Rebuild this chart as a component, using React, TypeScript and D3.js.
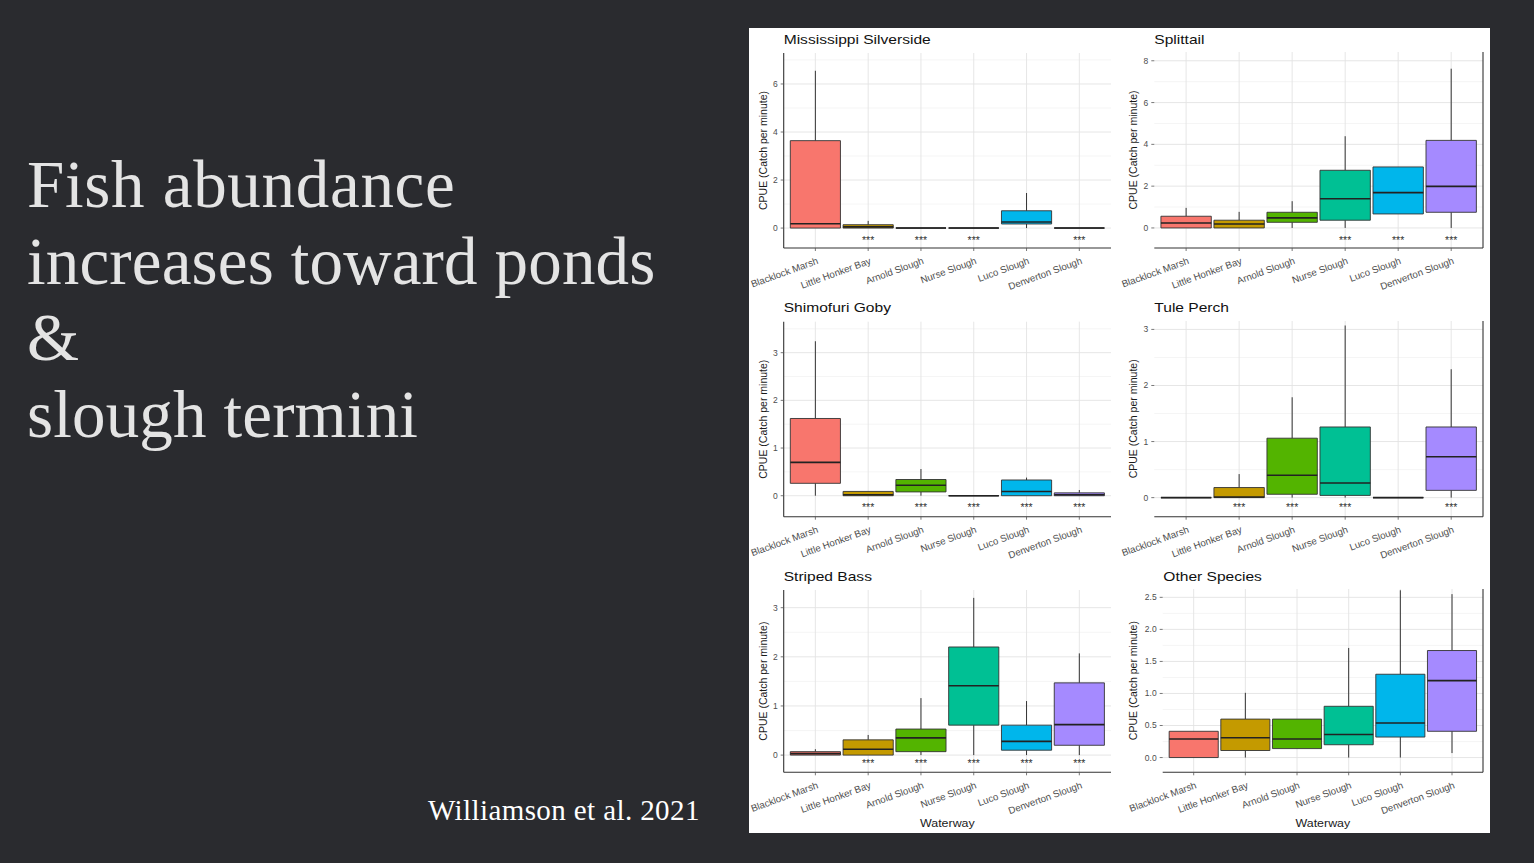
import React from 'react';
import * as d3 from 'd3';

const waterways = ["Blacklock Marsh", "Little Honker Bay", "Arnold Slough", "Nurse Slough", "Luco Slough", "Denverton Slough"];
const fillColors = ["#F8766D", "#C49A00", "#53B400", "#00C094", "#00B6EB", "#A58AFF"];

// each row: [min, q1, median, q3, max]
const silversideStats = [[0, 0, 0.18, 3.64, 6.55], [0, 0, 0.05, 0.14, 0.3], [0, 0, 0, 0, 0], [0, 0, 0, 0, 0], [0, 0.17, 0.25, 0.72, 1.46], [0, 0, 0, 0, 0]];
const silversideSig = [false, true, true, true, false, true];
const splittailStats = [[0, 0, 0.24, 0.56, 0.96], [0, 0, 0.19, 0.37, 0.77], [0, 0.27, 0.48, 0.75, 1.28], [0, 0.37, 1.4, 2.76, 4.39], [0.67, 0.67, 1.69, 2.92, 2.92], [0, 0.75, 1.99, 4.19, 7.62]];
const splittailSig = [false, false, false, true, true, true];
const gobyStats = [[0, 0.26, 0.7, 1.62, 3.24], [0, 0, 0.02, 0.09, 0.09], [0, 0.08, 0.22, 0.34, 0.56], [0, 0, 0, 0, 0], [0, 0, 0.09, 0.33, 0.38], [0, 0, 0.02, 0.06, 0.12]];
const gobySig = [false, true, true, true, true, true];
const perchStats = [[0, 0, 0, 0, 0], [0, 0, 0.01, 0.18, 0.42], [0, 0.06, 0.4, 1.06, 1.79], [0, 0.04, 0.26, 1.26, 3.07], [0, 0, 0, 0, 0], [0, 0.13, 0.73, 1.26, 2.29]];
const perchSig = [false, true, true, true, false, true];
const bassStats = [[0, 0, 0.03, 0.07, 0.12], [0, 0, 0.12, 0.31, 0.41], [0, 0.07, 0.35, 0.53, 1.16], [0, 0.61, 1.41, 2.2, 3.2], [0, 0.1, 0.28, 0.61, 1.1], [0, 0.2, 0.62, 1.47, 2.07]];
const bassSig = [false, true, true, true, true, true];
const otherStats = [[0, 0, 0.29, 0.41, 0.41], [0, 0.11, 0.31, 0.6, 1.01], [0.14, 0.14, 0.29, 0.6, 0.6], [0, 0.2, 0.36, 0.8, 1.71], [0, 0.32, 0.54, 1.3, 2.61], [0.07, 0.41, 1.2, 1.67, 2.55]];
const otherSig = [false, false, false, false, false, false];

const ticksEven = [0, 2, 4, 6];
const ticksEven8 = [0, 2, 4, 6, 8];
const ticksOdd = [1, 3, 5, 7];
const ticksUnit = [0, 1, 2, 3];
const ticksHalf = [0.5, 1.5, 2.5, 3.5];
const ticksOther = [0, 0.5, 1, 1.5, 2, 2.5];
const ticksOtherMinor = [0.25, 0.75, 1.25, 1.75, 2.25];

const yLabel = "CPUE (Catch per minute)";
const xLabel = "Waterway";

type Panel = {
  title: string; stats: number[][]; sig: boolean[]; major: number[]; minor: number[]; fmt: string;
  domain: [number, number]; left: number; right: number; top: number; bottom: number;
  side: 'left' | 'right'; starVal: number; titleX: number; titleY: number; ylabX: number; showX: boolean;
};

const panels: Panel[] = [
  { title: "Mississippi Silverside", stats: silversideStats, sig: silversideSig, major: ticksEven, minor: ticksOdd, fmt: "d", domain: [-0.83, 7.29], left: 783.7, right: 1111, top: 53, bottom: 248, side: 'left', starVal: -0.45, titleX: 783.7, titleY: 44, ylabX: 763, showX: false },
  { title: "Splittail", stats: splittailStats, sig: splittailSig, major: ticksEven8, minor: ticksOdd, fmt: "d", domain: [-0.96, 8.42], left: 1154.3, right: 1483, top: 52, bottom: 248, side: 'right', starVal: -0.51, titleX: 1154.3, titleY: 44, ylabX: 1133, showX: false },
  { title: "Shimofuri Goby", stats: gobyStats, sig: gobySig, major: ticksUnit, minor: ticksHalf, fmt: "d", domain: [-0.44, 3.65], left: 783.7, right: 1111, top: 321.7, bottom: 516.7, side: 'left', starVal: -0.22, titleX: 783.7, titleY: 312, ylabX: 763, showX: false },
  { title: "Tule Perch", stats: perchStats, sig: perchSig, major: ticksUnit, minor: ticksHalf, fmt: "d", domain: [-0.34, 3.15], left: 1154.3, right: 1483, top: 321, bottom: 516.7, side: 'right', starVal: -0.15, titleX: 1154.3, titleY: 312, ylabX: 1133, showX: false },
  { title: "Striped Bass", stats: bassStats, sig: bassSig, major: ticksUnit, minor: ticksHalf, fmt: "d", domain: [-0.35, 3.36], left: 783.7, right: 1111, top: 590, bottom: 772.3, side: 'left', starVal: -0.14, titleX: 783.7, titleY: 581, ylabX: 763, showX: true },
  { title: "Other Species", stats: otherStats, sig: otherSig, major: ticksOther, minor: ticksOtherMinor, fmt: ".1f", domain: [-0.23, 2.63], left: 1162.7, right: 1483, top: 589, bottom: 772.3, side: 'right', starVal: -0.2, titleX: 1163.3, titleY: 581, ylabX: 1133, showX: true },
];

const SANS = "'Liberation Sans', Arial, sans-serif";
const SERIF = "'Liberation Serif', 'Times New Roman', serif";

function BoxPanel({ p }: { p: Panel }) {
  const x = d3.scalePoint<string>().domain(waterways).range([p.left, p.right]).padding(0.6);
  const y = d3.scaleLinear().domain(p.domain).range([p.bottom, p.top]);
  const step = x.step();
  const hw = step * 0.475;
  const fmt = d3.format(p.fmt);
  const midY = (p.top + p.bottom) / 2;
  return (
    <g>
      {p.minor.filter(v => v > p.domain[0] && v < p.domain[1]).map(v => (
        <line key={'mn' + v} x1={p.left} x2={p.right} y1={y(v)} y2={y(v)} stroke="#f2f2f2" strokeWidth={0.8} />
      ))}
      {p.major.map(v => (
        <line key={'mj' + v} x1={p.left} x2={p.right} y1={y(v)} y2={y(v)} stroke="#e3e3e3" strokeWidth={0.9} />
      ))}
      {waterways.map(w => (
        <line key={'vg' + w} x1={x(w)} x2={x(w)} y1={p.top} y2={p.bottom} stroke="#e3e3e3" strokeWidth={0.9} />
      ))}
      {p.stats.map((s, i) => {
        const cx = x(waterways[i])!;
        const [mn, q1, md, q3, mx] = s;
        const boxPath = `M${cx - hw},${y(q1)}H${cx + hw}V${y(q3)}H${cx - hw}Z`;
        return (
          <g key={'b' + i}>
            {mx > q3 && <line x1={cx} x2={cx} y1={y(q3)} y2={y(mx)} stroke="#333" strokeWidth={1} />}
            {mn < q1 && <line x1={cx} x2={cx} y1={y(q1)} y2={y(mn)} stroke="#333" strokeWidth={1} />}
            <path d={boxPath} fill={fillColors[i]} stroke="#333" strokeWidth={0.9} />
            <line x1={cx - hw} x2={cx + hw} y1={y(md)} y2={y(md)} stroke="#222" strokeWidth={1.6} />
            {p.sig[i] && (
              <text x={cx} y={y(p.starVal) + 5} textAnchor="middle" fontFamily={SANS} fontSize={10.5} fill="#333">***</text>
            )}
          </g>
        );
      })}
      <line x1={p.left} x2={p.right} y1={p.bottom} y2={p.bottom} stroke="#333" strokeWidth={1.1} />
      {p.side === 'left'
        ? <line x1={p.left} x2={p.left} y1={p.top} y2={p.bottom} stroke="#333" strokeWidth={1.1} />
        : <line x1={p.right} x2={p.right} y1={p.top} y2={p.bottom} stroke="#333" strokeWidth={1.1} />}
      {p.major.map(v => (
        <g key={'yt' + v}>
          <line x1={p.left - 3} x2={p.left} y1={y(v)} y2={y(v)} stroke="#555" strokeWidth={0.8} />
          <text x={p.left - 6} y={y(v)} dy="0.35em" textAnchor="end" fontFamily={SANS} fontSize={8.5} fill="#4d4d4d">{fmt(v)}</text>
        </g>
      ))}
      {waterways.map(w => (
        <g key={'xt' + w}>
          <line x1={x(w)} x2={x(w)} y1={p.bottom} y2={p.bottom + 3} stroke="#555" strokeWidth={0.8} />
          <text transform={`translate(${x(w)! + 3.4},${p.bottom + 15.5}) rotate(-20)`} textAnchor="end" fontFamily={SANS} fontSize={9.7} fill="#4d4d4d">{w}</text>
        </g>
      ))}
      <text transform={`translate(${p.ylabX},${midY}) rotate(-90)`} textAnchor="middle" dy="0.35em" fontFamily={SANS} fontSize={10.5} fill="#1a1a1a">{yLabel}</text>
      <text transform={`translate(${p.titleX},${p.titleY}) scale(1.18,1)`} fontFamily={SANS} fontSize={13.2} fill="#111">{p.title}</text>
      {p.showX && (
        <text transform={`translate(${(p.left + p.right) / 2},${822.7}) scale(1.08,1)`} textAnchor="middle" dy="0.35em" fontFamily={SANS} fontSize={11.5} fill="#1a1a1a">{xLabel}</text>
      )}
    </g>
  );
}

const headline = ["Fish abundance", "increases toward ponds", "&", "slough termini"];
const citation = "Williamson et al. 2021";

export default function App() {
  return (
    <svg width={1534} height={863} style={{ position: 'absolute', left: 0, top: 0, display: 'block' }}>
      <rect x={0} y={0} width={1534} height={863} fill="#2a2b2f" />
      {headline.map((t, i) => (
        <text key={t} x={27} y={207 + i * 76.5} fontFamily={SERIF} fontSize={67} fill="#e4e4e4" letterSpacing={i === 0 ? 0.7 : 0.15}>{t}</text>
      ))}
      <text x={428} y={820} fontFamily={SERIF} fontSize={29} fill="#ffffff" letterSpacing={0.4}>{citation}</text>
      <rect x={749} y={28} width={741} height={805} fill="#ffffff" />
      {panels.map(p => <BoxPanel key={p.title} p={p} />)}
    </svg>
  );
}
